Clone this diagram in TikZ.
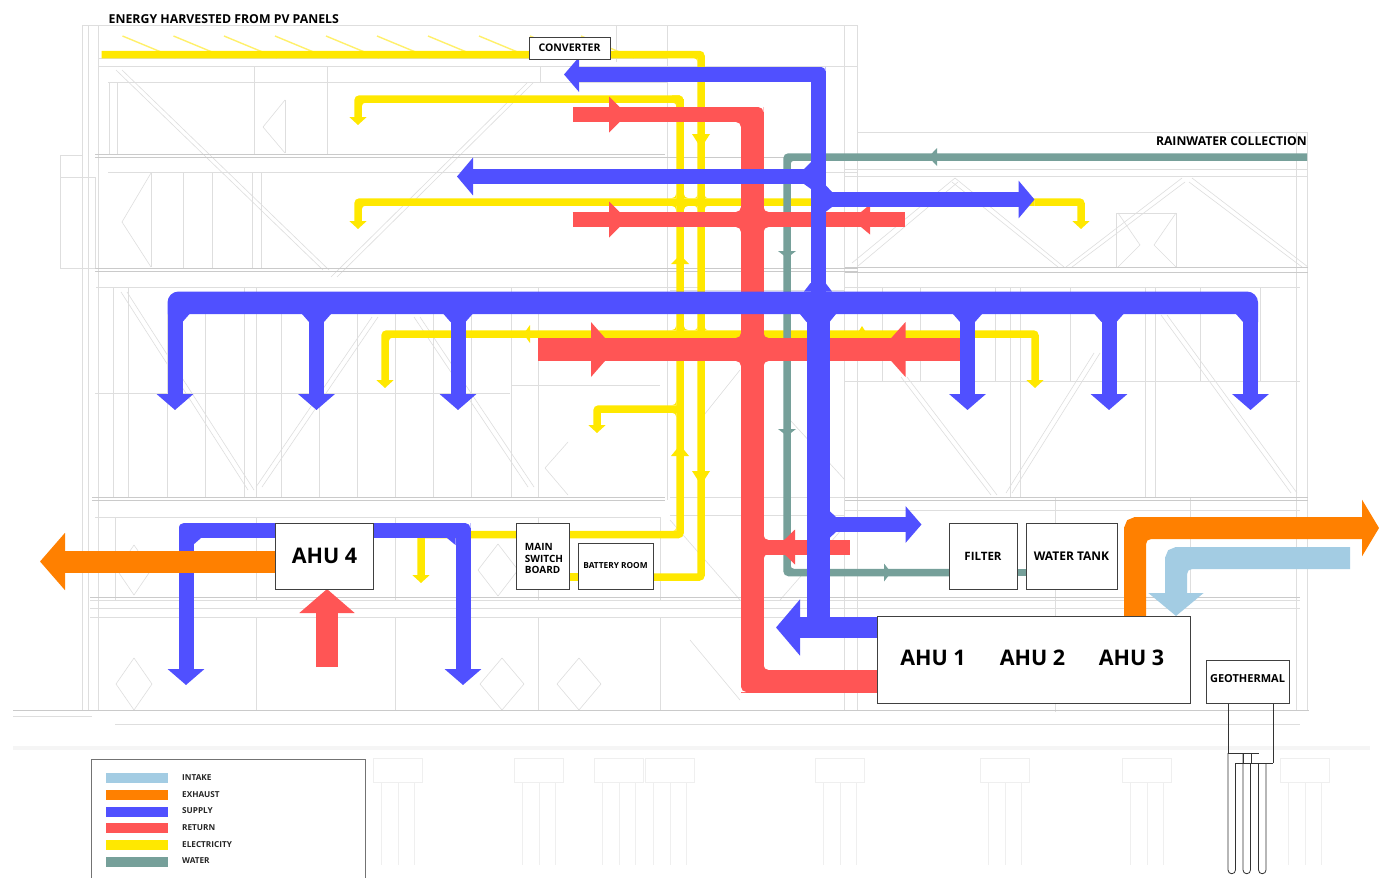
\documentclass[tikz,border=0pt]{standalone}
\usepackage{fontspec}
\setmainfont{Open Sans}
\usetikzlibrary{arrows.meta}
\pgfdeclarelayer{ducts}
\pgfsetlayers{ducts,main}
\definecolor{cyel}{HTML}{FFE800}
\definecolor{cpv}{HTML}{FFF06A}
\definecolor{cblu}{HTML}{5050FF}
\definecolor{cred}{HTML}{FF5555}
\definecolor{cora}{HTML}{FF8000}
\definecolor{cint}{HTML}{A3CCE3}
\definecolor{ctea}{HTML}{76A09A}
\definecolor{cbg}{HTML}{DEDEDE}
\definecolor{cbgd}{HTML}{CACACA}
\definecolor{cbgl}{HTML}{EFEFEF}
\newcommand{\fs}[1]{\fontsize{#1}{#1}\selectfont\bfseries}
% fillet: colour, corner x, y, sign x, sign y, radius
\newcommand{\fil}[6]{\fill[#1] ({#2+#4*#6},#3) .. controls ({#2+#4*#6*0.45},#3) and (#2,{#3+#5*#6*0.45}) .. (#2,{#3+#5*#6}) -- (#2,#3) -- cycle;}
% horizontal head: colour, base x, tip x, y, half height
\newcommand{\hhead}[5]{\fill[#1] (#2,{#4-#5}) -- (#3,#4) -- (#2,{#4+#5}) -- cycle;}
% vertical head: colour, x, base y, tip y, half width
\newcommand{\vhead}[5]{\fill[#1] ({#2-#5},#3) -- (#2,#4) -- ({#2+#5},#3) -- cycle;}
% chamfer trapezoid on a vertical duct: x0 x1 at y0, x2 x3 at y1
\newcommand{\cham}[6]{\fill[cblu] (#1,#5) -- (#2,#5) -- (#4,#6) -- (#3,#6) -- cycle;}
\tikzset{
 bgline/.style={draw=cbg,line width=0.6pt},
 bgdark/.style={draw=cbgd,line width=0.7pt},
 bgfaint/.style={draw=cbgl,line width=0.7pt},
 duct/.style={line cap=butt,line join=miter},
 yel/.style={duct,draw=cyel,line width=7.5pt,rounded corners=2pt},
 yelhead/.style={yel,-{Triangle[length=8pt,width=17pt]}},
 tea/.style={duct,draw=ctea,line width=7.5pt,rounded corners=2pt},
 blu/.style={duct,draw=cblu,line width=15pt},
 bluw/.style={duct,draw=cblu,line width=23pt},
 bluhead/.style={blu,-{Triangle[length=16pt,width=36pt]}},
 redd/.style={duct,draw=cred,line width=15pt},
 redw/.style={duct,draw=cred,line width=23pt},
 orad/.style={duct,draw=cora,line width=22pt,rounded corners=2pt},
 intk/.style={duct,draw=cint,line width=22pt,rounded corners=2pt},
 boxn/.style={draw=black!75,line width=0.9pt,fill=white,outer sep=0pt,inner sep=0pt,align=center},
 lab/.style={inner sep=0pt,text=black},
 legendtext/.style={inner sep=0pt,anchor=west,text=black!85,font=\fs{8.2}},
 swatch/.style={line width=10pt,duct},
}
\begin{document}
\begin{tikzpicture}[x=1pt,y=-1pt]
\useasboundingbox (0,0) rectangle (1379,878);
% ---------- boxes and labels (main layer, above the ducts)
\node[boxn,minimum width=81pt,minimum height=22pt,font=\fs{10.5}] (conv) at (569.5,48) {CONVERTER};
\node[boxn,minimum width=98pt,minimum height=66pt,font=\fs{21.5}] (ahu4) at (324.5,556) {AHU 4};
\node[boxn,minimum width=53pt,minimum height=66pt] (msb) at (542.5,556) {};
\node[lab,font=\fs{10},align=left] (msbt) at (544,558.5) {MAIN\\[1.5pt]SWITCH\\[1.5pt]BOARD};
\node[boxn,minimum width=75pt,minimum height=46pt,font=\fs{8.3}] (batt) at (615.5,566) {BATTERY ROOM};
\node[boxn,minimum width=68pt,minimum height=66pt,font=\fs{11.5}] (filt) at (983,556) {FILTER};
\node[boxn,minimum width=91pt,minimum height=66pt,font=\fs{12}] (tank) at (1071.5,556) {WATER TANK};
\node[boxn,minimum width=313pt,minimum height=87pt] (ahum) at (1033.5,659.5) {};
\node[lab,font=\fs{21.5}] (a1) at (933,658) {AHU 1};
\node[lab,font=\fs{21.5}] (a2) at (1032.5,658) {AHU 2};
\node[lab,font=\fs{21.5}] (a3) at (1131.5,658) {AHU 3};
\node[boxn,minimum width=83pt,minimum height=43pt] (geo) at (1247.5,681.5) {};
\node[lab,font=\fs{11}] (geot) at (1247.5,679) {GEOTHERMAL};
\node[lab,anchor=west,font=\fs{12.3}] (pvt) at (108.5,19) {ENERGY HARVESTED FROM PV PANELS};
\node[lab,anchor=east,font=\fs{12.2}] (rain) at (1307,141) {RAINWATER COLLECTION};
\coordinate (pvstart) at (101.5,54.5);
\coordinate (y1tip) at (358,125);
\coordinate (y2tip) at (358,229);
\coordinate (y2end) at (1081,229);
\coordinate (y3tip) at (385,388);
\coordinate (y3end) at (1035,388);
\coordinate (y4tip) at (597,433);
\coordinate (y5tip) at (421,583);
% ---------- everything else under the boxes
\begin{pgfonlayer}{ducts}
\fill[white] (0,0) rectangle (1379,878);
% faint building section
\foreach \a/\b/\c/\d in {
 82/25/858/25, 98/58/667/58, 98/66/858/66, 108/82/667/82, 108/172/858/172,
 96/287/700/287, 95/393/510/393, 512/385/660/385, 95/517/660/517, 90/600/1300/600,
 90/608/1300/608, 90/617/875/617, 115/724/1300/724, 13/716/92/716,
 857/132/1308/132, 845/169/1308/169, 845/176/1308/176, 845/287/1300/287, 845/381/1300/381, 845/510/1300/510,
 670/290/845/290, 670/497/845/497, 670/515/845/515,
 82/25/82/710, 88/25/88/710, 98/25/98/710, 616/25/616/62, 667/25/667/500,
 844/25/844/710, 857/25/857/710, 1296/133/1296/710, 1307/133/1307/710,
 113/287/113/497, 128/287/128/497, 167/314/167/497, 205/314/205/497, 244/287/244/497, 256/287/256/497,
 281/314/281/497, 319/314/319/497, 357/314/357/497, 395/314/395/497, 433/314/433/497, 471/314/471/497, 511/287/511/497, 538/287/538/497,
 115/517/115/600, 256/517/256/600, 395/517/395/600, 538/517/538/600, 660/517/660/600,
 256/617/256/710, 395/617/395/710, 538/617/538/710, 660/617/660/710,
 1055/497/1055/712, 1190/497/1190/600, 1010/287/1010/497, 1020/287/1020/497, 1145/287/1145/497, 1155/287/1155/497,
 882/287/882/381, 920/287/920/381, 995/287/995/381, 1070/287/1070/381, 1200/287/1200/381, 1260/287/1260/381,
 254/66/254/155, 327/66/327/155, 183/172/183/268, 212/172/212/268, 252/172/252/268, 261/172/261/268, 60/155/60/268,
 109/82/109/155, 117/82/117/155, 540/66/540/82,
 60/155/82/155, 60/177/95/177, 60/268/95/268, 95/177/95/268,
 116/70/323/270, 122/70/329/270, 533/83/337/277, 527/83/331/277,
 121/292/248/490, 127/292/254/490, 378/317/262/487, 372/317/256/487, 420/317/534/487, 414/317/528/487,
 285/100/263/127, 263/127/285/153, 151/173/122/222, 122/222/151/267, 285/100/285/153, 151/173/151/267,
 568/442/545/468, 545/468/568/495,
 907/377/997/495, 901/377/991/495, 1100/353/1012/493, 1094/353/1006/493, 1167/315/1297/493, 1161/315/1291/493,
 955/178/852/263, 958/182/858/266, 955/178/1064/267, 952/182/1058/267, 1185/182/1072/267, 1182/178/1066/267, 1189/182/1302/267, 1192/178/1308/267,
 1118/213/1140/245, 1140/245/1118/267, 1176/213/1154/245, 1154/245/1176/267, 1116/213/1176/213, 1116/213/1116/267, 1176/213/1176/267,
 134/545/117/570, 117/570/134/595, 134/545/151/570, 151/570/134/595,
 498/544/478/570, 478/570/498/596, 498/544/518/570, 518/570/498/596,
 134/658/116/684, 116/684/134/710, 134/658/152/684, 152/684/134/710,
 502/658/480/684, 480/684/502/710, 502/658/524/684, 524/684/502/710,
 579/658/557/684, 557/684/579/710, 579/658/601/684, 601/684/579/710,
 670/520/740/600, 850/520/780/600, 690/640/740/700, 700/420/740/370, 790/420/845/480
}{\draw[bgline] (\a,\b) -- (\c,\d);}
\foreach \a/\b/\c/\d in {
 95/154/665/154, 95/157/858/157, 95/268/858/268, 95/271/858/271, 92/497/665/497, 92/500/665/500,
 90/597/1300/597, 90/710/1309/710, 13/710/92/710, 845/267/1308/267, 845/272/1308/272, 845/497/1308/497, 845/500/1308/500
}{\draw[bgdark] (\a,\b) -- (\c,\d);}
\fill[cbgl!60] (13,746) rectangle (1370,750);
\foreach \a in {373,514,594,645,815,980,1122,1280}{
 \draw[bgfaint] (\a,758) rectangle ({\a+49},782);
 \draw[bgfaint] ({\a+8},782) -- ({\a+8},865);
 \draw[bgfaint] ({\a+25},782) -- ({\a+25},865);
 \draw[bgfaint] ({\a+41},782) -- ({\a+41},865);
}
% PV panels
\foreach \a in {122.5,173.5,224,275,326,377,428,479,530,581}{
 \draw[cpv,line width=1.4pt] (\a,36) -- ({\a+53},58);
}
% electricity
\draw[yel] (pvstart) -- (701,54.5) -- (701,577) -- (batt.east |- 0,577);
\draw[yel] (batt.west |- 0,577) -- (msb.east |- 0,577);
\draw[yel] (680,99) -- (680,534.5) -- (msb.east |- 0,534.5);
\draw[yelhead] (680,99) -- (358,99) -- (y1tip);
\draw[yel] (672,99) -- (680,99) -- (680,110);
\draw[yelhead] (1034.5,202) -- (1081,202) -- (y2end);
\draw[yelhead] (1034.5,202) -- (358,202) -- (y2tip);
\draw[yelhead] (680,334) -- (385,334) -- (y3tip);
\draw[yelhead] (680,334) -- (1035,334) -- (y3end);
\draw[yelhead] (680,409) -- (597,409) -- (y4tip);
\draw[yelhead] (msb.west |- 0,534.5) -- (421,534.5) -- (y5tip);
\foreach \sx/\sy/\yy in {-1/-1/198.2, 1/-1/198.2, -1/1/205.8, 1/1/205.8}{
 \pgfmathsetmacro{\xx}{680+\sx*3.75}
 \fil{cyel}{\xx}{\yy}{\sx}{\sy}{4.5}
}
\foreach \sx/\sy/\yy in {-1/-1/330.2, 1/-1/330.2}{
 \pgfmathsetmacro{\xx}{680+\sx*3.75}
 \fil{cyel}{\xx}{\yy}{\sx}{\sy}{4.5}
}
\foreach \sx/\sy/\yy in {-1/-1/198.2, 1/-1/198.2, -1/1/205.8, 1/1/205.8,-1/-1/330.2, 1/-1/330.2}{
 \pgfmathsetmacro{\xx}{701+\sx*3.75}
 \fil{cyel}{\xx}{\yy}{\sx}{\sy}{3}
}
\fil{cyel}{676.25}{405.2}{-1}{-1}{4}
\fil{cyel}{676.25}{412.8}{-1}{1}{4}
\fil{cyel}{676.25}{102.8}{-1}{1}{3}
\fil{cyel}{697.25}{58.2}{-1}{1}{3}
\fil{cyel}{676.25}{530.7}{-1}{-1}{3}
\fil{cyel}{362}{102.8}{1}{1}{3}
\fil{cyel}{362}{205.8}{1}{1}{3}
\fil{cyel}{389}{337.8}{1}{1}{3}
\vhead{cyel}{701}{134}{148}{9}
\vhead{cyel}{701}{471}{485}{9}
\vhead{cyel}{680}{264}{255}{9}
\vhead{cyel}{680}{456}{445}{9}
\hhead{cyel}{530}{523.5}{334}{9}
\vhead{cyel}{862}{334}{326}{5}
% water
\draw[tea] (1307,157) -- (787,157) -- (787,572.5) -- (filt.west |- 0,572.5);
\draw[tea] (filt.east |- 0,572.5) -- (tank.west |- 0,572.5);
\fil{ctea}{790.75}{160.75}{1}{1}{3}
\fil{ctea}{790.75}{568.75}{1}{-1}{3}
\hhead{ctea}{937}{928.5}{157}{9}
\vhead{ctea}{787}{251}{258}{9}
\vhead{ctea}{787}{429}{436}{9}
\hhead{ctea}{884}{891}{572.5}{9}
% return
\draw[redw] (ahum.west |- 0,681) -- (752,681) -- (752,107);
\draw[redd] (752,114.5) -- (572.5,114.5);
\fil{white}{741}{692}{1}{-1}{5}
\fil{white}{763.5}{107}{-1}{1}{5}
\fil{cred}{763.5}{670}{1}{-1}{5}
\fil{cred}{741}{122}{-1}{1}{5}
\draw[redd] (572.5,219.5) -- (905,219.5);
\draw[redw] (538,349.5) -- (960,349.5);
\draw[redd] (752,547) -- (850,547);
\foreach \yy/\ya/\yb in {219.5/212/227, 349.5/338/361}{
 \fil{cred}{741}{\ya}{-1}{-1}{5}
 \fil{cred}{741}{\yb}{-1}{1}{5}
 \fil{cred}{763.5}{\ya}{1}{-1}{5}
 \fil{cred}{763.5}{\yb}{1}{1}{5}
}
\fil{cred}{763.5}{540}{1}{-1}{5}
\fil{cred}{763.5}{554}{1}{1}{5}
\hhead{cred}{609}{627}{114.5}{18}
\hhead{cred}{609}{627}{219.5}{18}
\hhead{cred}{870}{852}{219.5}{15}
\hhead{cred}{591}{615}{349.5}{27.5}
\hhead{cred}{905.5}{881}{349.5}{27.5}
\hhead{cred}{795}{777}{547}{17.5}
% supply
\draw[blu,-{Triangle[length=15pt,width=34pt]}] (818,303) -- (818,74.5) -- (564,74.5);
\fil{white}{825.5}{67}{-1}{1}{4}
\draw[bluw] (818,303) -- (818,628);
\fill[cblu] (167.5,314) {[rounded corners=11pt] -- (167.5,291.5) -- (1258,291.5)} -- (1258,314) -- cycle;
\foreach \xx in {175,316.5,458,967.5,1109,1250.5}{
 \draw[bluhead] (\xx,310) -- (\xx,410);
}
\foreach \xx in {316.5,458,967.5,1109}{
 \cham{{\xx-14.5}}{{\xx+14.5}}{{\xx-7.5}}{{\xx+7.5}}{314}{322}
}
\cham{175}{189.5}{175}{182.5}{314}{322}
\cham{1236}{1258}{1243}{1258}{314}{322}
\draw[blu,-{Triangle[length=16pt,width=37pt]}] (818,176.5) -- (457,176.5);
\draw[blu,-{Triangle[length=16pt,width=37pt]}] (818,199.5) -- (1034.5,199.5);
\draw[blu,-{Triangle[length=16pt,width=36pt]}] (818,524.5) -- (921.5,524.5);
\draw[duct,draw=cblu,line width=21pt,-{Triangle[length=24pt,width=55pt]}] (ahum.west |- 0,627.5) -- (776,627.5);
\cham{804}{832}{810.5}{825.5}{291.5}{283}
\cham{800}{836}{806.5}{829.5}{314}{322}
\cham{804}{818}{811}{818}{169}{162}
\cham{804}{818}{811}{818}{184}{189}
\cham{818}{832}{818}{825.5}{192}{185}
\cham{818}{832}{818}{825.5}{207}{212}
\cham{818}{836}{818}{829.5}{517}{511}
\cham{818}{836}{818}{829.5}{532}{538}
% AHU4 supply
\draw[blu,-{Triangle[length=16pt,width=36pt]}] (ahu4.west |- 0,530.5) -- (186,530.5) -- (186,685);
\draw[blu,-{Triangle[length=16pt,width=36pt]}] (ahu4.east |- 0,530.5) -- (463,530.5) -- (463,685);
\fil{white}{178.5}{523}{1}{1}{5}
\fil{white}{470.5}{523}{-1}{1}{5}
\fill[cblu] (193,538) -- (201,538) -- (193,545) -- cycle;
\fill[cblu] (455.5,538) -- (447,538) -- (455.5,545) -- cycle;
% exhaust / intake
\draw[duct,draw=cora,line width=22pt,-{Triangle[length=25pt,width=56pt]}] (ahu4.west |- 0,561.5) -- (40,561.5);
\draw[orad,-{Triangle[length=17pt,width=56pt]}] (ahum.north -| 1135,0) -- (1135,528) -- (1379,528);
\fil{cora}{1146}{539}{1}{1}{5}
\draw[duct,draw=cred,line width=22pt,-{Triangle[length=24pt,width=54pt]}] (327,667) -- (ahu4.south -| 327,0);
\draw[intk,-{Triangle[length=23pt,width=54pt]}] (1350,558) -- (1176,558) -- (ahum.north -| 1176,0);
\fil{cint}{1187}{569}{1}{1}{5}
% geothermal tubes
\foreach \a/\b/\c/\d in {1228/703/1228/753, 1273/703/1273/763, 1228/753/1258.5/753, 1235.5/763/1273/763, 1243/753/1243/763, 1251/753/1251/763}{
 \draw[black!80,line width=0.8pt] (\a,\b) -- (\c,\d);
}
\foreach \a/\t in {1228/753,1243/753,1258.5/763}{
 \draw[black!80,line width=0.8pt] (\a,\t) -- (\a,870) arc[start angle=180,end angle=360,radius=3.75pt] -- ({\a+7.5},763);
}
% legend
\draw[black!55,line width=0.9pt] (91.5,880) -- (91.5,759) -- (365,759) -- (365,880);
\foreach \cc/\yy in {cint/778, cora/795, cblu/811.5, cred/828, cyel/845, ctea/861.5}{
 \draw[swatch,draw=\cc] (106,\yy) -- (168,\yy);
}
\end{pgfonlayer}
\foreach \n/\yy/\tt in {li/778/INTAKE, le/795/EXHAUST, ls/811.5/SUPPLY, lr/828/RETURN, ly/845/ELECTRICITY, lw/861.5/WATER}{
 \node[legendtext] (\n) at (182,{\yy-0.5}) {\tt};
}
\end{tikzpicture}
\end{document}
